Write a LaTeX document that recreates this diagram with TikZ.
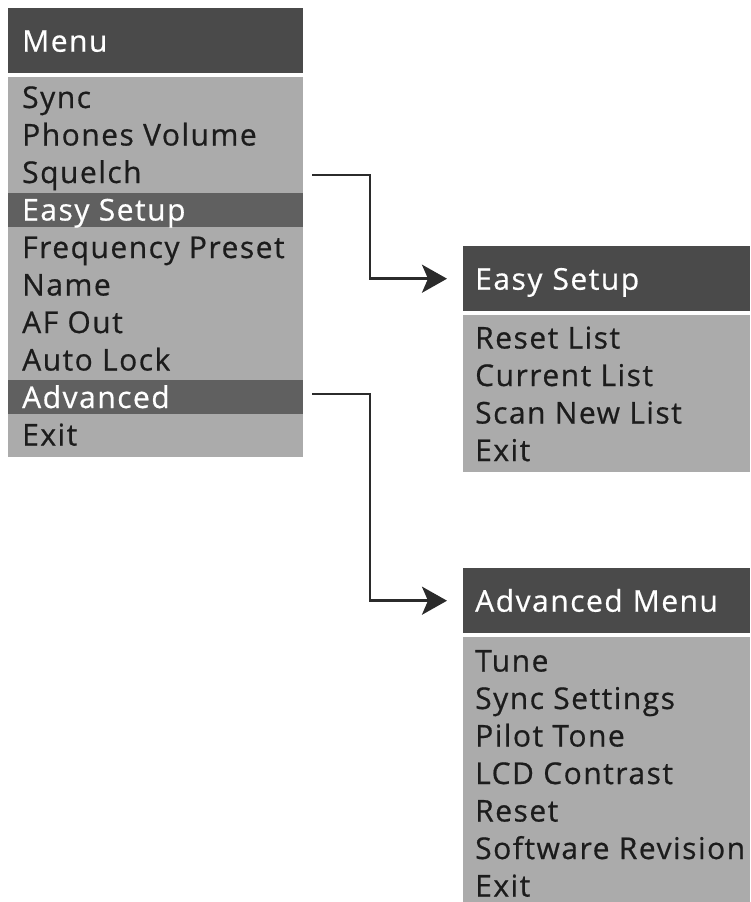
\documentclass[tikz,border=0pt]{standalone}
\usepackage{fontspec}
\newfontfamily\menufont[LetterSpace=5, FakeBold=0.6]{Open Sans}
\usetikzlibrary{arrows.meta,positioning,calc}
\definecolor{HeadGray}{HTML}{4A4A4A}
\definecolor{SelGray}{HTML}{606060}
\definecolor{BodyGray}{HTML}{ABABAB}
\definecolor{InkBlack}{HTML}{1C1C1C}
\definecolor{LineDark}{HTML}{2B2B2B}

\begin{document}
\begin{tikzpicture}[x=1pt, y=-1pt,
    head/.style={fill=HeadGray, text=white, font=\menufont\fontsize{30}{32}\selectfont, anchor=north west, inner ysep=0pt, minimum height=65pt, text height=22pt, text depth=0pt, align=left},
    panel/.style={fill=BodyGray, anchor=north west, inner sep=0pt},
    selbar/.style={fill=SelGray, anchor=north west, inner sep=0pt, minimum height=34pt},
    item/.style={anchor=base west, inner sep=0pt, font=\menufont\fontsize{30}{32}\selectfont},
    arr/.style={-{Stealth[length=25pt, width=28pt, inset=6pt]}, draw=LineDark, line width=2.7pt, shorten >=16pt}
  ]
    \useasboundingbox (0,0) rectangle (750,902);

    \node[head, inner xsep=14pt, text width=267pt] (mainhead) at (8,8) {Menu};
    \node[panel, minimum width=295pt, minimum height=380pt] (mainbody) at (8,77) {};
    \node[selbar, minimum width=295pt] (selEasy) at (8,193) {};
    \node[selbar, minimum width=295pt] (selAdv) at (8,380) {};
    \foreach \txt/\col [count=\i from 0] in {Sync/InkBlack, Phones Volume/InkBlack, Squelch/InkBlack, Easy Setup/white, Frequency Preset/InkBlack, Name/InkBlack, AF Out/InkBlack, Auto Lock/InkBlack, Advanced/white, Exit/InkBlack}
      \node[item, text=\col] (m\i) at (22,{108+37.5*\i}) {\txt};

    \node[head, inner xsep=12pt, text width=263pt] (easyhead) at (463,246) {Easy Setup};
    \node[panel, minimum width=287pt, minimum height=157pt] (easybody) at (463,315) {};
    \foreach \txt [count=\i from 0] in {Reset List, Current List, Scan New List, Exit}
      \node[item, text=InkBlack] (e\i) at (475,{348.5+37.5*\i}) {\txt};

    \node[head, inner xsep=12pt, text width=263pt] (advhead) at (463,568) {Advanced Menu};
    \node[panel, minimum width=287pt, minimum height=265pt] (advbody) at (463,637) {};
    \foreach \txt [count=\i from 0] in {Tune, Sync Settings, Pilot Tone, LCD Contrast, Reset, Software Revision, Exit}
      \node[item, text=InkBlack] (a\i) at (475,{671.5+37.5*\i}) {\txt};

    \coordinate (toEasy) at (312,175);
    \coordinate (toAdv) at (312,394);
    \draw[arr] (toEasy) -- ++(58,0) |- (easyhead.west);
    \draw[arr] (toAdv) -- ++(58,0) |- (advhead.west);
  \end{tikzpicture}
\end{document}
